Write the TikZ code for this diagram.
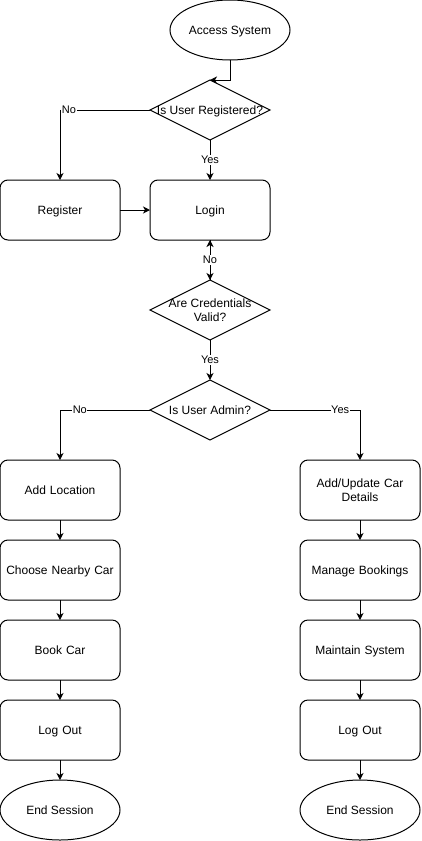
\documentclass[tikz,border=0pt]{standalone}
\usepackage{fontspec}
\setmainfont{Liberation Sans}
\usetikzlibrary{shapes.geometric,arrows.meta}
\begin{document}
\begin{tikzpicture}[x=1pt,y=-1pt,
  every node/.style={font=\fontsize{12}{14}\selectfont, align=center, inner sep=0pt, outer sep=0pt},
  one/.style={text height=8.6pt, text depth=0pt},
  proc/.style={draw, line width=1pt, rounded corners=8pt, minimum width=120pt, minimum height=60pt, text width=112pt},
  term/.style={draw, line width=1pt, ellipse, minimum width=120pt, minimum height=60pt, one},
  decshape/.style={draw, line width=1pt, diamond, minimum width=120pt, minimum height=60pt, shape aspect=2},
  conn/.style={draw, line width=1pt, -{Stealth[length=7pt,width=7pt,inset=2pt]}},
  lbl/.style={fill=white, font=\fontsize{11}{13}\selectfont, inner xsep=0.5pt, inner ysep=1.5pt, text height=7.9pt, text depth=0pt}
]
\useasboundingbox (0,0) rectangle (421,841);
% nodes
\node[term] (access) at (230,30) {Access System};
\node[decshape] (reg) at (210,110) {};
\node[one] (regt) at (210,110) {Is User Registered?};
\node[proc, one] (register) at (60,210) {Register};
\node[proc, one] (login) at (210,210) {Login};
\node[decshape] (cred) at (210,310) {};
\node (credt) at (210,310) {Are Credentials\\Valid?};
\node[decshape] (admin) at (210,410) {};
\node[one] (admint) at (210,410) {Is User Admin?};
\node[proc, one] (addloc) at (60,490) {Add Location};
\node[proc, one] (choose) at (60,570) {Choose Nearby Car};
\node[proc, one] (book) at (60,650) {Book Car};
\node[proc, one] (logoutu) at (60,730) {Log Out};
\node[term] (endu) at (60,810) {End Session};
\node[proc] (addcar) at (360,490) {Add/Update Car\\Details};
\node[proc, one] (manage) at (360,570) {Manage Bookings};
\node[proc, one] (maint) at (360,650) {Maintain System};
\node[proc, one] (logouta) at (360,730) {Log Out};
\node[term] (enda) at (360,810) {End Session};
% coordinates
\coordinate (c1) at (230,80);
\coordinate (c2) at (60,110);
\coordinate (c3) at (60,410);
\coordinate (c4) at (360,410);
% connectors
\draw[conn] (access.south) -- (c1) -- (reg.north);
\draw[conn] (reg.west) -- (c2) node[lbl, pos=0.9] {No} -- (register.north);
\draw[conn] (reg.south) -- node[lbl] {Yes} (login.north);
\draw[conn] (register.east) -- (login.west);
\draw[conn] (login.south) -- (cred.north);
\draw[conn] (cred.north) -- node[lbl] {No} (login.south);
\draw[conn] (cred.south) -- node[lbl] {Yes} (admin.north);
\draw[conn] (admin.west) -- (c3) node[lbl, pos=0.78] {No} -- (addloc.north);
\draw[conn] (admin.east) -- (c4) node[lbl, pos=0.78] {Yes} -- (addcar.north);
\draw[conn] (addloc) -- (choose);
\draw[conn] (choose) -- (book);
\draw[conn] (book) -- (logoutu);
\draw[conn] (logoutu) -- (endu);
\draw[conn] (addcar) -- (manage);
\draw[conn] (manage) -- (maint);
\draw[conn] (maint) -- (logouta);
\draw[conn] (logouta) -- (enda);
\end{tikzpicture}
\end{document}
